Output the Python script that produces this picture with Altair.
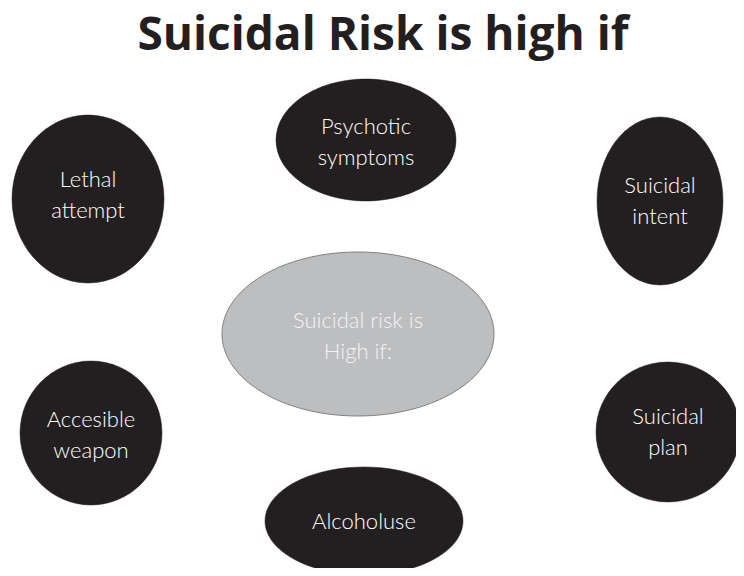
import altair as alt
import pandas as pd

# ---- content ----
title_text = "Suicidal Risk is high if"
labels = ["Psychotic\nsymptoms", "Lethal\nattempt", "Suicidal\nintent",
          "Suicidal risk is\nHigh if:", "Accesible\nweapon", "Suicidal\nplan", "Alcoholuse"]
roles = ["factor", "factor", "factor", "center", "factor", "factor", "factor"]

# ---- layout (image pixel coordinates: centre and half-axes of each ellipse) ----
cx = [366, 88, 660, 358, 91, 668, 364]
cy = [140, 199, 201, 334, 433, 432, 521]
rx = [90, 76, 63, 136, 71, 72, 99]
ry = [61, 84, 84, 82, 72, 70, 54]
text_dy = [2, -4, 0, 2, 2, 0, 1]   # small vertical nudges of the labels

W, H = 728, 560
LINE_H = 31


def ellipse_path(a, b):
    m = max(a, b)
    ax, by = a / m, b / m
    return (f"M {-ax:.4f} 0 A {ax:.4f} {by:.4f} 0 1 0 {ax:.4f} 0 "
            f"A {ax:.4f} {by:.4f} 0 1 0 {-ax:.4f} 0 Z")


df = pd.DataFrame({
    "label": labels, "role": roles, "cx": cx, "cy": cy, "rx": rx, "ry": ry,
})
df["path"] = [ellipse_path(a, b) for a, b in zip(df.rx, df.ry)]
df["size"] = [(2 * max(a, b)) ** 2 for a, b in zip(df.rx, df.ry)]
df["ty"] = [c + d - LINE_H * (l.count("\n")) / 2 for c, d, l in zip(cy, text_dy, labels)]

xs = alt.Scale(domain=[8, 8 + W], nice=False, zero=False)
ys = alt.Scale(domain=[8 + H, 8], nice=False, zero=False)

base = alt.Chart(df).encode(
    x=alt.X("cx:Q", scale=xs, axis=None),
    y=alt.Y("cy:Q", scale=ys, axis=None),
)

dark = base.transform_filter(alt.datum.role == "factor").mark_point(
    filled=True, fill="#231f20", stroke="#231f20", strokeWidth=0.5, opacity=1
).encode(
    shape=alt.Shape("path:N", scale=None, legend=None),
    size=alt.Size("size:Q", scale=None, legend=None),
)

centre = base.transform_filter(alt.datum.role == "center").mark_point(
    filled=True, fill="#bdbec0", stroke="#808080", strokeWidth=1, opacity=1
).encode(
    shape=alt.Shape("path:N", scale=None, legend=None),
    size=alt.Size("size:Q", scale=None, legend=None),
)

tbase = alt.Chart(df).encode(
    x=alt.X("cx:Q", scale=xs, axis=None),
    y=alt.Y("ty:Q", scale=ys, axis=None),
    text="label:N",
)

dark_text = tbase.transform_filter(alt.datum.role == "factor").mark_text(
    font="Lato", fontWeight=300, fontSize=22, color="#ffffff",
    lineBreak="\n", lineHeight=LINE_H, align="center", baseline="middle",
)

centre_text = tbase.transform_filter(alt.datum.role == "center").mark_text(
    font="Lato", fontWeight=300, fontSize=22, color="#f4f4f4",
    lineBreak="\n", lineHeight=LINE_H, align="center", baseline="middle",
)

title = alt.Chart(pd.DataFrame({"t": [title_text]})).mark_text(
    font="Open Sans", fontWeight="bold", fontSize=46, color="#231f20",
    align="center", baseline="middle",
).encode(x=alt.value(375), y=alt.value(28), text="t:N")

chart = alt.layer(centre, dark, dark_text, centre_text, title).properties(
    width=W, height=H, padding=0, autosize=alt.AutoSizeParams(type="none"),
    background="#ffffff",
).configure_view(stroke=None)

chart.save("out.html", embed_options={"renderer": "svg", "actions": False})
